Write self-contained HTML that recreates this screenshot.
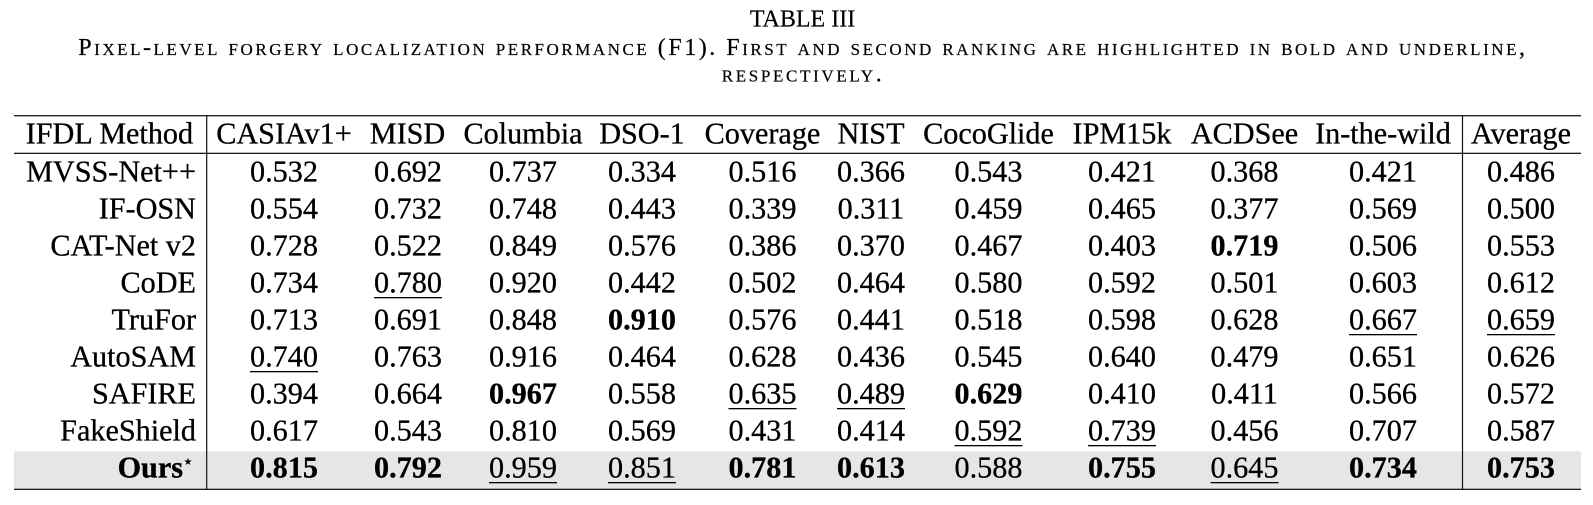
<!DOCTYPE html>
<html>
<head>
<meta charset="utf-8">
<style>
  html, body { margin: 0; padding: 0; background: #fff; }
  body { width: 1593px; height: 505px; overflow: hidden; }
  svg { display: block; }
  text { font-family: "Liberation Serif", "Times New Roman", serif; fill: #000; }
</style>
</head>
<body>
<svg width="1593" height="505" viewBox="0 0 1593 505" xmlns="http://www.w3.org/2000/svg">
  <rect x="0" y="0" width="1593" height="505" fill="#fff"/>

  <!-- Caption -->
  <g stroke="#000" stroke-width="0.2">
  <text x="802.5" y="26.7" font-size="24" text-anchor="middle">TABLE III</text>
  <text x="78.3" y="55" font-size="24" style="font-variant: small-caps" textLength="1446.7" lengthAdjust="spacing">Pixel-level forgery localization performance (F1). First and second ranking are highlighted in bold and underline,</text>
  <text x="721.7" y="81.7" font-size="24" style="font-variant: small-caps" textLength="160" lengthAdjust="spacing">respectively.</text>
  </g>

  <!-- Gray band for last row -->
  <rect x="14" y="451.3" width="1567" height="37.4" fill="#e6e6e6"/>

  <!-- Rules -->
  <rect x="14" y="115.1" width="1567" height="1.25" fill="#111"/>
  <rect x="14" y="152.7" width="1567" height="1.25" fill="#111"/>
  <rect x="14" y="488.7" width="1567" height="1.25" fill="#111"/>
  <rect x="206.1" y="115.1" width="1.2" height="374.8" fill="#111"/>
  <rect x="1461.9" y="115.1" width="1.2" height="374.8" fill="#111"/>

  <g font-size="30.2" text-anchor="middle" stroke="#000" stroke-width="0.3">
    <!-- Header -->
    <text x="109.4" y="143.3">IFDL Method</text>
    <text x="284" y="143.3">CASIAv1+</text>
    <text x="407.5" y="143.3">MISD</text>
    <text x="523" y="143.3">Columbia</text>
    <text x="642" y="143.3">DSO-1</text>
    <text x="762.5" y="143.3">Coverage</text>
    <text x="871" y="143.3">NIST</text>
    <text x="988.5" y="143.3">CocoGlide</text>
    <text x="1122" y="143.3">IPM15k</text>
    <text x="1244.5" y="143.3">ACDSee</text>
    <text x="1383" y="143.3">In-the-wild</text>
    <text x="1521" y="143.3">Average</text>

    <!-- Method names (right aligned) -->
    <g text-anchor="end">
      <text x="196" y="181.7">MVSS-Net++</text>
      <text x="196" y="218.7">IF-OSN</text>
      <text x="196" y="255.7">CAT-Net v2</text>
      <text x="196" y="292.7">CoDE</text>
      <text x="196" y="329.7">TruFor</text>
      <text x="196" y="366.7">AutoSAM</text>
      <text x="196" y="403.7">SAFIRE</text>
      <text x="196" y="440.7">FakeShield</text>
      <text x="183" y="477.7" font-weight="bold">Ours</text>
    </g>
    <text x="183.5" y="465" font-size="10" stroke-width="0" text-anchor="start" style="font-family: 'DejaVu Sans', sans-serif;">★</text>

    <!-- Row 1: MVSS-Net++ -->
    <text x="284" y="181.7">0.532</text>
    <text x="408" y="181.7">0.692</text>
    <text x="523" y="181.7">0.737</text>
    <text x="642" y="181.7">0.334</text>
    <text x="762.5" y="181.7">0.516</text>
    <text x="871" y="181.7">0.366</text>
    <text x="988.5" y="181.7">0.543</text>
    <text x="1122" y="181.7">0.421</text>
    <text x="1244.5" y="181.7">0.368</text>
    <text x="1383" y="181.7">0.421</text>
    <text x="1521" y="181.7">0.486</text>

    <!-- Row 2: IF-OSN -->
    <text x="284" y="218.7">0.554</text>
    <text x="408" y="218.7">0.732</text>
    <text x="523" y="218.7">0.748</text>
    <text x="642" y="218.7">0.443</text>
    <text x="762.5" y="218.7">0.339</text>
    <text x="871" y="218.7">0.311</text>
    <text x="988.5" y="218.7">0.459</text>
    <text x="1122" y="218.7">0.465</text>
    <text x="1244.5" y="218.7">0.377</text>
    <text x="1383" y="218.7">0.569</text>
    <text x="1521" y="218.7">0.500</text>

    <!-- Row 3: CAT-Net v2 -->
    <text x="284" y="255.7">0.728</text>
    <text x="408" y="255.7">0.522</text>
    <text x="523" y="255.7">0.849</text>
    <text x="642" y="255.7">0.576</text>
    <text x="762.5" y="255.7">0.386</text>
    <text x="871" y="255.7">0.370</text>
    <text x="988.5" y="255.7">0.467</text>
    <text x="1122" y="255.7">0.403</text>
    <text x="1244.5" y="255.7" font-weight="bold">0.719</text>
    <text x="1383" y="255.7">0.506</text>
    <text x="1521" y="255.7">0.553</text>

    <!-- Row 4: CoDE -->
    <text x="284" y="292.7">0.734</text>
    <text x="408" y="292.7">0.780</text>
    <text x="523" y="292.7">0.920</text>
    <text x="642" y="292.7">0.442</text>
    <text x="762.5" y="292.7">0.502</text>
    <text x="871" y="292.7">0.464</text>
    <text x="988.5" y="292.7">0.580</text>
    <text x="1122" y="292.7">0.592</text>
    <text x="1244.5" y="292.7">0.501</text>
    <text x="1383" y="292.7">0.603</text>
    <text x="1521" y="292.7">0.612</text>

    <!-- Row 5: TruFor -->
    <text x="284" y="329.7">0.713</text>
    <text x="408" y="329.7">0.691</text>
    <text x="523" y="329.7">0.848</text>
    <text x="642" y="329.7" font-weight="bold">0.910</text>
    <text x="762.5" y="329.7">0.576</text>
    <text x="871" y="329.7">0.441</text>
    <text x="988.5" y="329.7">0.518</text>
    <text x="1122" y="329.7">0.598</text>
    <text x="1244.5" y="329.7">0.628</text>
    <text x="1383" y="329.7">0.667</text>
    <text x="1521" y="329.7">0.659</text>

    <!-- Row 6: AutoSAM -->
    <text x="284" y="366.7">0.740</text>
    <text x="408" y="366.7">0.763</text>
    <text x="523" y="366.7">0.916</text>
    <text x="642" y="366.7">0.464</text>
    <text x="762.5" y="366.7">0.628</text>
    <text x="871" y="366.7">0.436</text>
    <text x="988.5" y="366.7">0.545</text>
    <text x="1122" y="366.7">0.640</text>
    <text x="1244.5" y="366.7">0.479</text>
    <text x="1383" y="366.7">0.651</text>
    <text x="1521" y="366.7">0.626</text>

    <!-- Row 7: SAFIRE -->
    <text x="284" y="403.7">0.394</text>
    <text x="408" y="403.7">0.664</text>
    <text x="523" y="403.7" font-weight="bold">0.967</text>
    <text x="642" y="403.7">0.558</text>
    <text x="762.5" y="403.7">0.635</text>
    <text x="871" y="403.7">0.489</text>
    <text x="988.5" y="403.7" font-weight="bold">0.629</text>
    <text x="1122" y="403.7">0.410</text>
    <text x="1244.5" y="403.7">0.411</text>
    <text x="1383" y="403.7">0.566</text>
    <text x="1521" y="403.7">0.572</text>

    <!-- Row 8: FakeShield -->
    <text x="284" y="440.7">0.617</text>
    <text x="408" y="440.7">0.543</text>
    <text x="523" y="440.7">0.810</text>
    <text x="642" y="440.7">0.569</text>
    <text x="762.5" y="440.7">0.431</text>
    <text x="871" y="440.7">0.414</text>
    <text x="988.5" y="440.7">0.592</text>
    <text x="1122" y="440.7">0.739</text>
    <text x="1244.5" y="440.7">0.456</text>
    <text x="1383" y="440.7">0.707</text>
    <text x="1521" y="440.7">0.587</text>

    <!-- Row 9: Ours -->
    <text x="284" y="477.7" font-weight="bold">0.815</text>
    <text x="408" y="477.7" font-weight="bold">0.792</text>
    <text x="523" y="477.7">0.959</text>
    <text x="642" y="477.7">0.851</text>
    <text x="762.5" y="477.7" font-weight="bold">0.781</text>
    <text x="871" y="477.7" font-weight="bold">0.613</text>
    <text x="988.5" y="477.7">0.588</text>
    <text x="1122" y="477.7" font-weight="bold">0.755</text>
    <text x="1244.5" y="477.7">0.645</text>
    <text x="1383" y="477.7" font-weight="bold">0.734</text>
    <text x="1521" y="477.7" font-weight="bold">0.753</text>
  </g>

  <!-- Underlines (second best) -->
  <g fill="#000">
    <rect x="374" y="297" width="68" height="1.3"/>
    <rect x="1349" y="334" width="68" height="1.3"/>
    <rect x="1487" y="334" width="68" height="1.3"/>
    <rect x="250" y="371" width="68" height="1.3"/>
    <rect x="728.5" y="408" width="68" height="1.3"/>
    <rect x="837" y="408" width="68" height="1.3"/>
    <rect x="954.5" y="445" width="68" height="1.3"/>
    <rect x="1088" y="445" width="68" height="1.3"/>
    <rect x="489" y="482" width="68" height="1.3"/>
    <rect x="608" y="482" width="68" height="1.3"/>
    <rect x="1210.5" y="482" width="68" height="1.3"/>
  </g>
</svg>
</body>
</html>
